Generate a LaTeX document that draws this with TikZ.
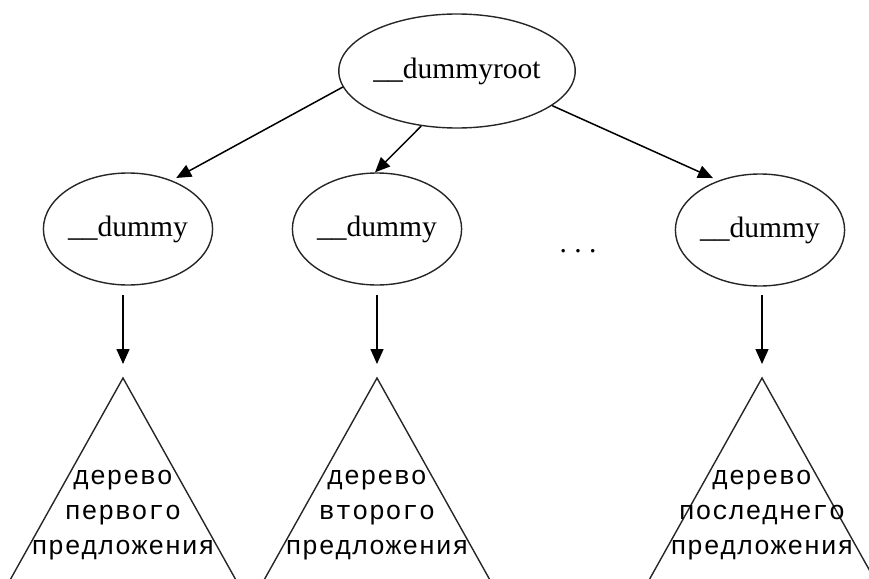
\documentclass[tikz,border=0pt]{standalone}
\usepackage{fontspec}
\setmainfont{Liberation Serif}
\newfontfamily\treefont[LetterSpace=3]{Liberation Mono}
\usetikzlibrary{arrows.meta,shapes.geometric}
\tikzset{
    %Define standard arrow tip
    >={Triangle[length=15pt,width=13pt]},
    %Define style for ellipses
    dummy/.style={
           ellipse,
           draw=black!85, line width=1.4pt,
           minimum width=160pt,
           minimum height=112pt,
           inner sep=0pt,
           font=\fontsize{29.5}{34}\selectfont,
           text centered},
    rootnode/.style={
           dummy,
           minimum width=206pt,
           minimum height=114pt},
    %Define style for the sentence trees
    sentence/.style={
           draw=black!85, line width=1.4pt},
    sentence text/.style={
           font=\treefont\fontsize{26.5}{35}\selectfont,
           align=center},
    % Define arrow style
    pil/.style={
           ->,
           line width=1.5pt}
}

\begin{document}
\begin{tikzpicture}[x=1pt,y=-1pt]
\clip (0,0) rectangle (869,578);
\node[rootnode](r) at (457,71){\_\_dummyroot};
\node[dummy](1) at (128,229){\_\_dummy};
\node[dummy](2) at (377,229){\_\_dummy};
\node[dummy](3) at (760,230){\_\_dummy};
\node[font=\fontsize{29.5}{34}\selectfont, anchor=base](dots) at (578,252){.\ .\ .};
\path[pil]
	(r.188) edge[shorten >=5pt] (1.48)
	(r.237) edge (2.92)
	(r.340) edge[shorten >=6pt] (3.130);
% one tree per sentence, hanging below its dummy
\foreach \n/\x in {1/123,2/377,3/762}{
  \coordinate (s\n) at (\x,295);
  \coordinate (t\n) at (\x,378);
  \draw[sentence] (t\n) -- ++(-123,220) -- ++(246,0) -- cycle;
  \draw[pil, shorten >=14pt] (s\n) -- (t\n);
}
\node[sentence text](w1) at (123,515){дерево\\первого\\предложения};
\node[sentence text](w2) at (377,515){дерево\\второго\\предложения};
\node[sentence text](w3) at (762,515){дерево\\последнего\\предложения};
\end{tikzpicture}
\end{document}
